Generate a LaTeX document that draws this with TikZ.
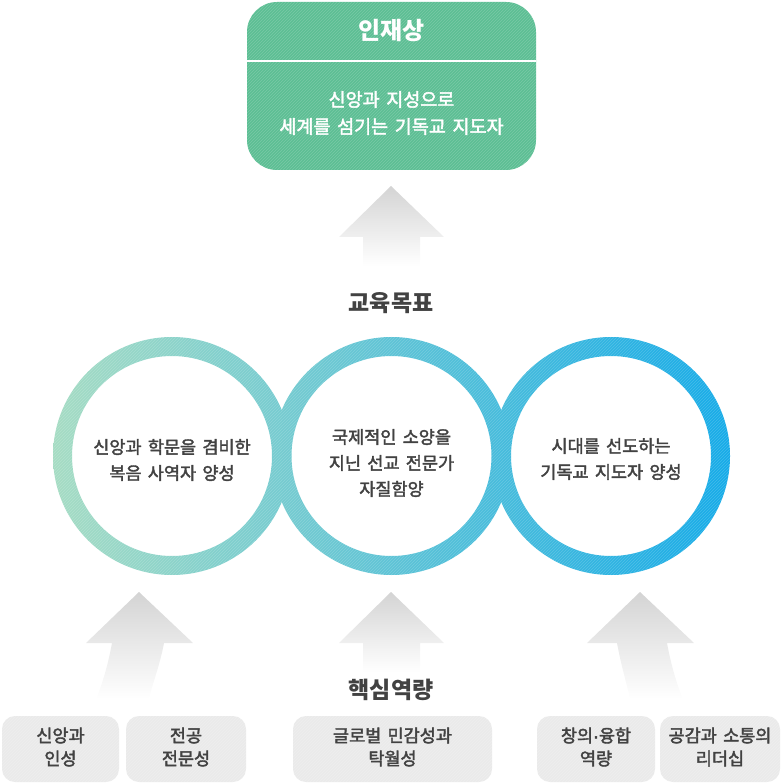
\documentclass[tikz,border=0pt]{standalone}
\usepackage{fontspec}
\setmainfont{Noto Sans CJK KR}[WordSpace=1.6]
\newfontfamily\medfont{Noto Sans CJK KR}[FakeBold=2.2, WordSpace=1.6]
\newfontfamily\dotfont{Liberation Sans}[FakeBold=2.2]
\usetikzlibrary{patterns}
\definecolor{boxgreen}{RGB}{92,190,148}
\definecolor{txt}{RGB}{66,66,66}
\definecolor{graybox}{RGB}{234,234,234}
\definecolor{ringA}{RGB}{166,220,196}
\definecolor{ringB}{RGB}{104,202,208}
\definecolor{ringC}{RGB}{22,171,232}
\tikzset{
  body/.style={font=\medfont\fontsize{17.5}{26}\selectfont, align=center, text=txt},
  heading/.style={font=\bfseries\fontsize{23}{26}\selectfont, text=txt},
  smallbox/.style={fill=graybox, rounded corners=13pt},
  boxtext/.style={font=\medfont\fontsize{17.5}{23}\selectfont, align=center, text=txt},
  uparrow/.style={top color=black!17, bottom color=white},
  stripes/.style={pattern=north east lines, pattern color=white, opacity=0.18},
}
\begin{document}
\begin{tikzpicture}[x=1pt,y=-1pt]
\useasboundingbox (0,0) rectangle (784,783);
% top box
\fill[boxgreen, rounded corners=30pt] (247,2) rectangle (536,170);
\fill[stripes, rounded corners=30pt] (247,2) rectangle (536,170);
\coordinate (divL) at (247,61.5);
\coordinate (divR) at (536,61.5);
\draw[white, line width=2pt] (divL) -- (divR);
\node[font=\bfseries\fontsize{24}{26}\selectfont, text=white] (title) at (391.5,31) {인재상};
\node[font=\medfont\fontsize{18.5}{27}\selectfont, align=center, text=white] (sub) at (391.5,113) {신앙과 지성으로\\세계를 섬기는 기독교 지도자};
% top arrow
\shade[uparrow] (391,186) -- (444,237) -- (420,237) -- (420,266) -- (363,266) -- (363,237) -- (339,237) -- cycle;
\node[heading] (goal) at (391,303) {교육목표};
% rings
\foreach \cx/\nm in {172/c1, 391.5/c2, 611/c3}{
  \coordinate (\nm) at (\cx,456);
  \begin{scope}[even odd rule]
    \clip (\nm) circle (119) (\nm) circle (100);
    \shade[left color=ringA, middle color=ringB, right color=ringC] (53,337) rectangle (731,575);
    \fill[stripes] (53,337) rectangle (731,575);
  \end{scope}
}
\node[body] (t1) at (172,460) {신앙과 학문을 겸비한\\복음 사역자 양성};
\node[body] (t2) at (391.5,463) {국제적인 소양을\\지닌 선교 전문가\\자질함양};
\node[body] (t3) at (611,459) {시대를 선도하는\\기독교 지도자 양성};
% bottom arrows
\shade[uparrow] (139,592) -- (193,643) -- (164,643)
   .. controls (160,665) and (152,685) .. (149,699) -- (96,699)
   .. controls (102,685) and (108,665) .. (112,643) -- (86,643) -- cycle;
\shade[uparrow] (391,592) -- (444,643) -- (420,643) -- (420,672) -- (363,672) -- (363,643) -- (339,643) -- cycle;
\shade[uparrow] (640,592) -- (694,643) -- (667,643)
   .. controls (671,665) and (677,685) .. (683,699) -- (630,699)
   .. controls (627,685) and (621,665) .. (617,643) -- (587,643) -- cycle;
\node[heading] (core) at (391,690) {핵심역량};
% bottom boxes
\foreach \xa/\xb/\nm in {2/119/b1, 126/246/b2, 293/492/b3, 537/655/b4, 660/780/b5}{
  \fill[smallbox] (\xa,716) rectangle (\xb,782);
  \fill[stripes, rounded corners=13pt] (\xa,716) rectangle (\xb,782);
  \coordinate (\nm) at ({(\xa+\xb)/2},747);
}
\node[boxtext] (k1) at (b1) {신앙과\\인성};
\node[boxtext] (k2) at (b2) {전공\\전문성};
\node[boxtext] (k3) at (b3) {글로벌 민감성과\\탁월성};
\node[boxtext] (k4) at (b4) {창의{\dotfont ·}융합\\역량};
\node[boxtext] (k5) at (b5) {공감과 소통의\\리더십};
\end{tikzpicture}
\end{document}
